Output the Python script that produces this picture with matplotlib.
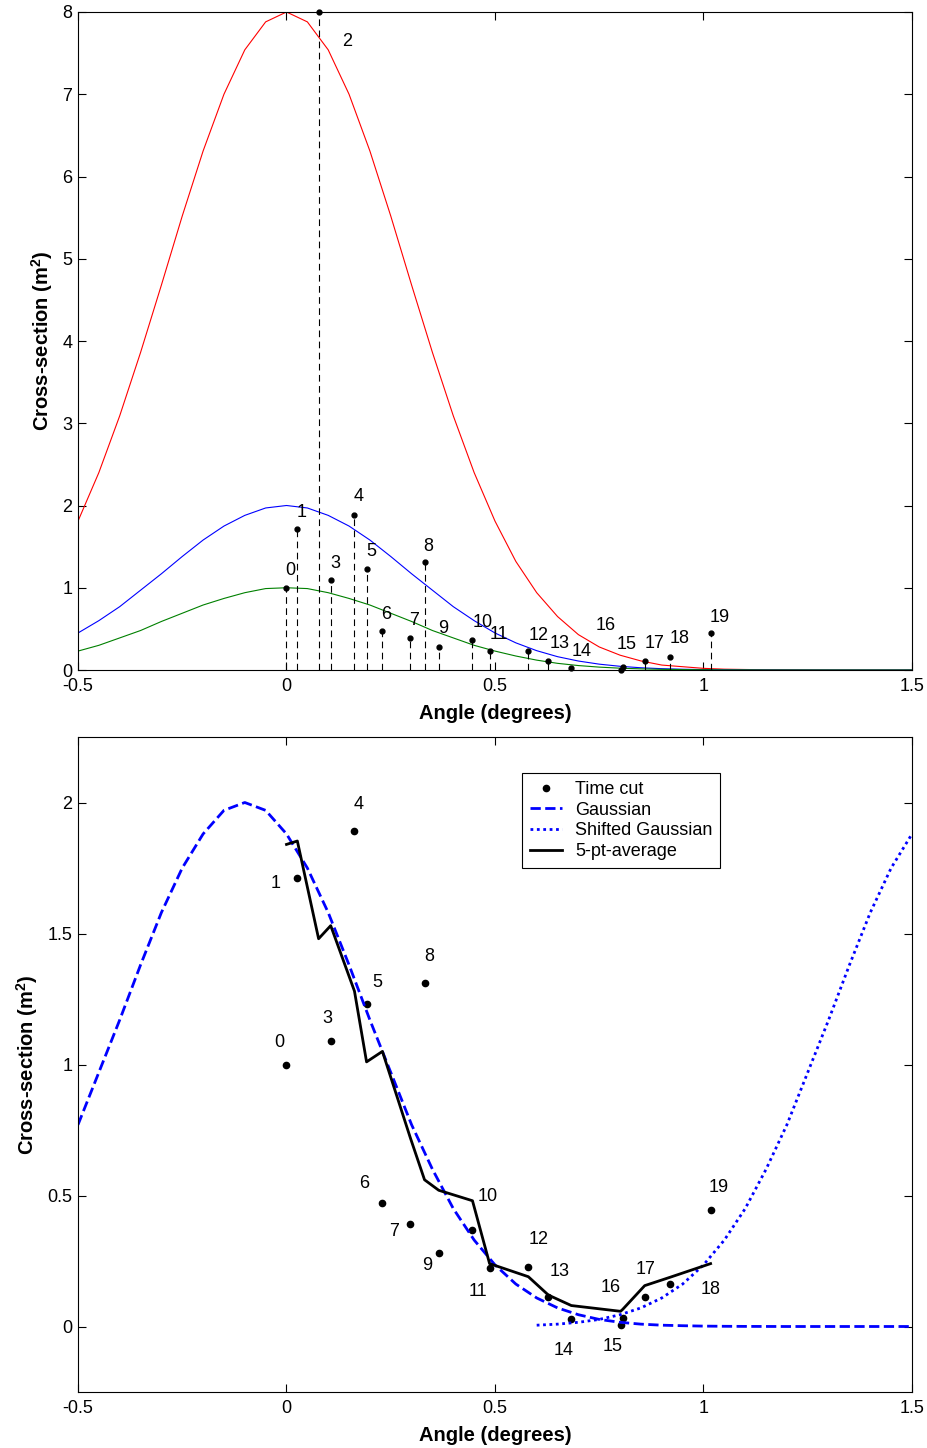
import numpy as np
import matplotlib
matplotlib.use('Agg')
import matplotlib.pyplot as plt
from matplotlib.ticker import FuncFormatter

plt.rcParams['font.family'] = ['Liberation Sans', 'DejaVu Sans']
plt.rcParams['mathtext.fontset'] = 'custom'
plt.rcParams['mathtext.rm'] = 'Liberation Sans'
plt.rcParams['mathtext.bf'] = 'Liberation Sans:bold'

# time-cut points (angle in degrees, cross-section in m^2)
cut_angle = [0.0, 0.026, 0.077, 0.106, 0.163, 0.192, 0.230, 0.297, 0.331, 0.365,
             0.446, 0.487, 0.580, 0.628, 0.683, 0.801, 0.806, 0.859, 0.920, 1.017]
cut_value = [1.00, 1.71, 8.00, 1.09, 1.89, 1.23, 0.47, 0.39, 1.31, 0.28,
             0.37, 0.225, 0.229, 0.114, 0.027, 0.004, 0.034, 0.112, 0.164, 0.446]
cut_labels = [str(i) for i in range(20)]

# 5-point running average of the cut
avg_value = [1.84, 1.853, 1.48, 1.53, 1.28, 1.01, 1.05, 0.72, 0.56, 0.52,
             0.48, 0.24, 0.19, 0.12, 0.08, 0.058, 0.065, 0.156, 0.188, 0.24]

# model curves on a 0.05 deg grid from -0.5 to 1.5
grid = np.linspace(-0.5, 1.5, 41)
red_curve = [1.81, 2.40, 3.09, 3.86, 4.68, 5.52, 6.31, 7.00, 7.54, 7.88,
             8.00, 7.88, 7.54, 7.00, 6.31, 5.52, 4.68, 3.86, 3.09, 2.40,
             1.81, 1.32, 0.94, 0.65, 0.43, 0.28, 0.18, 0.11, 0.06, 0.04,
             0.02, 0.01, 0.006, 0.003, 0.002, 0.001, 0.0, 0.0, 0.0, 0.0, 0.0]
blue_curve = [0.45, 0.60, 0.77, 0.97, 1.17, 1.38, 1.58, 1.75, 1.88, 1.97,
              2.00, 1.97, 1.88, 1.75, 1.58, 1.38, 1.17, 0.97, 0.77, 0.60,
              0.45, 0.33, 0.235, 0.162, 0.109, 0.071, 0.045, 0.027, 0.016, 0.009,
              0.005, 0.003, 0.0015, 0.0008, 0.0004, 0.0002, 0.0, 0.0, 0.0, 0.0, 0.0]
green_curve = [0.23, 0.30, 0.39, 0.48, 0.59, 0.69, 0.79, 0.87, 0.94, 0.99,
               1.00, 0.99, 0.94, 0.87, 0.79, 0.69, 0.59, 0.48, 0.39, 0.30,
               0.23, 0.17, 0.12, 0.081, 0.054, 0.035, 0.022, 0.014, 0.008, 0.005,
               0.003, 0.001, 0.001, 0.0, 0.0, 0.0, 0.0, 0.0, 0.0, 0.0, 0.0]
gauss_curve = [0.77, 0.97, 1.17, 1.38, 1.58, 1.75, 1.88, 1.97, 2.00, 1.97,
               1.88, 1.75, 1.58, 1.38, 1.17, 0.97, 0.77, 0.60, 0.45, 0.33,
               0.235, 0.162, 0.109, 0.071, 0.045, 0.027, 0.016, 0.009, 0.005, 0.003,
               0.0015, 0.0008, 0.0004, 0.0002, 0.0, 0.0, 0.0, 0.0, 0.0, 0.0, 0.0]
shift_grid = np.linspace(0.6, 1.5, 19)
shift_curve = [0.005, 0.009, 0.016, 0.027, 0.045, 0.071, 0.109, 0.162, 0.235, 0.33,
               0.45, 0.60, 0.77, 0.97, 1.17, 1.38, 1.58, 1.75, 1.88]

# label offsets in pixels (dx right, dy up)
top_offsets = [(4, 17), (4, 17), (29, -29), (5, 17), (4, 18), (5, 17), (4, 17), (4, 17),
               (4, 16), (4, 18), (10, 17), (9, 17), (10, 16), (11, 17), (10, 16),
               (6, 25), (-17, 42), (10, 17), (9, 18), (9, 16)]
bot_offsets = [(-7, 22), (-22, -5), (0, 0), (-3, 22), (4, 27), (11, 22), (-18, 20), (-16, -7),
               (5, 27), (-12, -12), (15, 33), (-12, -24), (10, 27), (11, 25), (-8, -31),
               (-8, -21), (-12, 30), (1, 28), (40, -6), (8, 22)]

fig = plt.figure(figsize=(9.28, 14.48), dpi=100)
ax1 = fig.add_axes([78/928, 1 - 670/1448, 834/928, 658/1448])
ax2 = fig.add_axes([78/928, 1 - 1392/1448, 834/928, 655/1448])

fmt = FuncFormatter(lambda v, pos: f'{v:g}')
ylab = r'Cross-section (m$^{\mathbf{2}}$)'

# ---- top panel
ax1.plot(grid, red_curve, color='#ff0000', lw=0.8)
ax1.plot(grid, blue_curve, color='#0000ff', lw=0.8)
ax1.plot(grid, green_curve, color='#008000', lw=0.8)
ax1.vlines(cut_angle, 0, cut_value, colors='k', linestyles=(0, (6, 4)), lw=0.8)
ax1.plot(cut_angle, cut_value, 'k.', ms=7, clip_on=False)
for xv, yv, lab, off in zip(cut_angle, cut_value, cut_labels, top_offsets):
    ax1.annotate(lab, (xv, yv), xytext=off, textcoords='offset pixels',
                 ha='center', va='center', fontsize=13, annotation_clip=False)
ax1.set_xlim(-0.5, 1.5)
ax1.set_ylim(0, 8)
ax1.set_xticks([-0.5, 0, 0.5, 1, 1.5])
ax1.set_yticks(range(9))

# ---- bottom panel
ax2.plot(cut_angle, cut_value, 'k.', ms=9, label='Time cut')
ax2.plot(grid, gauss_curve, color='#0000ff', lw=2, ls='--', label='Gaussian')
ax2.plot(shift_grid, shift_curve, color='#0000ff', lw=2, ls=(0, (1, 1.3)),
         label='Shifted Gaussian')
ax2.plot(cut_angle, avg_value, color='k', lw=2, label='5-pt-average')
for xv, yv, lab, off in zip(cut_angle, cut_value, cut_labels, bot_offsets):
    if yv > 2.25:
        continue
    ax2.annotate(lab, (xv, yv), xytext=off, textcoords='offset pixels',
                 ha='center', va='center', fontsize=13)
ax2.set_xlim(-0.5, 1.5)
ax2.set_ylim(-0.25, 2.25)
ax2.set_xticks([-0.5, 0, 0.5, 1, 1.5])
ax2.set_yticks([0, 0.5, 1, 1.5, 2])
leg = ax2.legend(loc='upper left', bbox_to_anchor=(0.532, 0.945), fontsize=13,
                 fancybox=False, framealpha=1, edgecolor='k', handlelength=1.8,
                 handletextpad=0.7, borderaxespad=0, labelspacing=0.2,
                 borderpad=0.45)
leg.get_frame().set_linewidth(0.8)

for ax in (ax1, ax2):
    ax.xaxis.set_major_formatter(fmt)
    ax.yaxis.set_major_formatter(fmt)
    ax.tick_params(direction='in', top=True, right=True, length=6, width=0.8,
                   labelsize=13)
    ax.tick_params(axis='x', pad=6)
    ax.tick_params(axis='y', pad=4)
    for sp in ax.spines.values():
        sp.set_linewidth(0.8)
    ax.set_xlabel('Angle (degrees)', fontweight='bold', fontsize=14.5, labelpad=6)
    ax.set_ylabel(ylab, fontweight='bold', fontsize=14.5, labelpad=5)

fig.savefig('out.png', dpi=100)
